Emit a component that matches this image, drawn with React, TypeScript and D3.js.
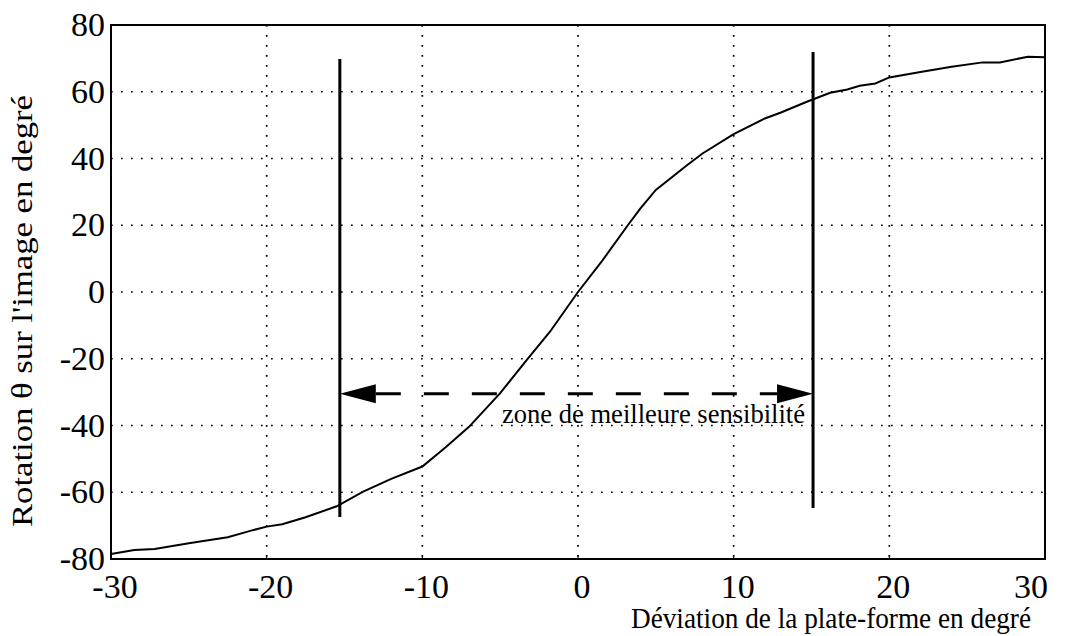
import React from "react";
import * as d3 from "d3";

const xTicks = [-30, -20, -10, 0, 10, 20, 30];
const yTicks = [-80, -60, -40, -20, 0, 20, 40, 60, 80];
const xGrid = [-20, -10, 0, 10, 20];
const yGrid = [-60, -40, -20, 0, 20, 40, 60];

const curveX = [-30, -28.5, -27.2, -25, -22.5, -21, -20, -19, -17.5, -15.5, -13.8, -12, -10, -8.5, -7, -5, -3.3, -1.8, 0, 1.5, 3.2, 4, 5, 7, 8, 10, 12, 13, 14.7, 16.2, 17.3, 18.1, 19.1, 20, 22, 24, 26, 27.1, 28.9, 30];
const curveY = [-78.5, -77.3, -77.0, -75.3, -73.5, -71.5, -70.3, -69.6, -67.5, -64.2, -59.8, -56, -52.3, -46.5, -40.4, -30.3, -20.4, -11.9, 0, 9, 20, 25, 30.6, 38, 41.5, 47.3, 52, 53.7, 57, 59.7, 60.7, 61.8, 62.5, 64.3, 65.9, 67.5, 68.8, 68.8, 70.5, 70.3];

const zoneX = [-15.3, 15.1];
const zoneTop = [69.8, 71.9];
const zoneBottom = [-67.4, -64.7];
const arrowY = -30.5;
const zoneLabel = "zone de meilleure sensibilité";
const xTitle = "Déviation de la plate-forme en degré";
const yTitle = "Rotation θ sur l'image en degré";

const FONT = '"Liberation Serif", "Times New Roman", Times, serif';

export default function App() {
  const W = 1069, H = 636;
  const x = d3.scaleLinear().domain([-30, 30]).range([111, 1045]);
  const y = d3.scaleLinear().domain([-80, 80]).range([559, 25]);
  const pts = curveX.map((v, i) => [x(v), y(curveY[i])] as [number, number]);
  const line = d3.line()(pts) || "";
  const ay = y(arrowY);
  const lx = x(zoneX[0]);
  const rx = x(zoneX[1]);
  const headLen = 36, headHalf = 9.5;
  const ts = (size: number) => ({ fontFamily: FONT, fontSize: size + "px" });
  return (
    <svg width={W} height={H} style={{ position: "absolute", left: 0, top: 0, background: "#fff" }}>
      <rect x={0} y={0} width={W} height={H} fill="#fff" />
      {xGrid.map((g) => (
        <line key={"xg" + g} x1={x(g)} x2={x(g)} y1={y(80)} y2={y(-80)} stroke="#000" strokeWidth={1.7} strokeDasharray="1.7,8.3" />
      ))}
      {yGrid.map((g) => (
        <line key={"yg" + g} x1={x(-30)} x2={x(30)} y1={y(g)} y2={y(g)} stroke="#000" strokeWidth={1.7} strokeDasharray="1.7,8.3" />
      ))}
      {xGrid.map((g) => (
        <line key={"xt" + g} x1={x(g)} x2={x(g)} y1={y(-80)} y2={y(-80) - 4} stroke="#000" strokeWidth={1} />
      ))}
      <rect x={x(-30)} y={y(80)} width={x(30) - x(-30)} height={y(-80) - y(80)} fill="none" stroke="#000" strokeWidth={2} />
      <path d={line} fill="none" stroke="#000" strokeWidth={2} />
      {zoneX.map((v, i) => (
        <line key={"z" + i} x1={x(v)} x2={x(v)} y1={y(zoneTop[i])} y2={y(zoneBottom[i])} stroke="#000" strokeWidth={3} />
      ))}
      <line x1={lx + headLen} x2={rx - headLen} y1={ay} y2={ay} stroke="#000" strokeWidth={3} strokeDasharray="25,23" />
      <path d={`M${lx},${ay} L${lx + headLen},${ay - headHalf} L${lx + headLen},${ay + headHalf} Z`} fill="#000" />
      <path d={`M${rx},${ay} L${rx - headLen},${ay - headHalf} L${rx - headLen},${ay + headHalf} Z`} fill="#000" />
      <text x={502} y={423} style={ts(27)} textLength={303} lengthAdjust="spacingAndGlyphs">{zoneLabel}</text>
      {yTicks.map((t) => (
        <text key={"yl" + t} x={105} y={y(t)} dy="0.33em" style={ts(34)} textAnchor="end">{t}</text>
      ))}
      {xTicks.map((t) => (
        <text key={"xl" + t} x={x(t) + (t === 30 ? -14 : 4)} y={598} style={ts(34)} textAnchor="middle">{t}</text>
      ))}
      <text x={1031} y={628} style={ts(29)} textAnchor="end" textLength={400} lengthAdjust="spacingAndGlyphs">{xTitle}</text>
      <text transform={`translate(32, 311) rotate(-90)`} style={ts(29)} textAnchor="middle" textLength={432} lengthAdjust="spacingAndGlyphs">{yTitle}</text>
    </svg>
  );
}
